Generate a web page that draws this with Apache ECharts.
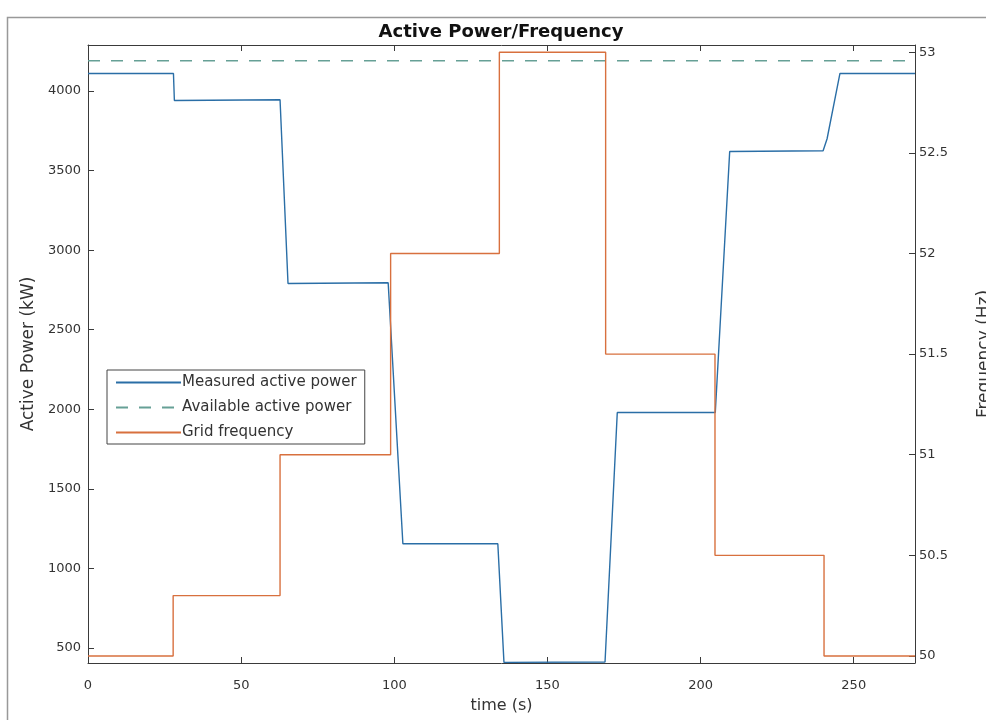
<!DOCTYPE html>
<html>
<head>
<meta charset="utf-8">
<script src="https://cdn.jsdelivr.net/npm/echarts@6/dist/echarts.min.js"></script>
<style>html,body{margin:0;padding:0;background:#fff;}#c{width:986px;height:720px;}</style>
</head>
<body>
<div id="c"></div>
<script>
// time (s), active power (kW)
var powerTime  = [0, 27.9, 28.2, 62.7, 65.3, 98.0, 102.8, 133.8, 135.8, 168.8, 172.8, 204.8, 209.5, 240.0, 241.3, 245.5, 270];
var powerValue = [4110, 4110, 3940, 3945, 2790, 2795, 1155, 1155, 410, 412, 1980, 1980, 3620, 3625, 3700, 4110, 4110];
// available active power (kW)
var availTime  = [0, 270];
var availValue = [4190, 4190];
// grid frequency (Hz)
var freqTime  = [0, 27.8, 27.8, 62.7, 62.7, 98.8, 98.8, 134.3, 134.3, 169.0, 169.0, 204.7, 204.7, 240.3, 240.3, 270];
var freqValue = [50, 50, 50.3, 50.3, 51, 51, 52, 52, 53, 53, 51.5, 51.5, 50.5, 50.5, 50, 50];
// tick labels
var xTicks = [0, 50, 100, 150, 200, 250];
var leftTicks = [500, 1000, 1500, 2000, 2500, 3000, 3500, 4000];
var rightTicks = [50, 50.5, 51, 51.5, 52, 52.5, 53];

function pairs(t, v) { return t.map(function (x, i) { return [x, v[i]]; }); }

var axisCol = '#3a3a3a';
var txtCol = '#333';
var font = 'DejaVu Sans, sans-serif';
function plain(v) { return String(v); }

var chart = echarts.init(document.getElementById('c'), null, { renderer: 'canvas' });
chart.setOption({
  backgroundColor: '#fff',
  animation: false,
  title: {
    text: 'Active Power/Frequency',
    left: 501, top: 23, textAlign: 'center', padding: 0,
    textStyle: { fontSize: 18, fontWeight: 'bold', color: '#111', fontFamily: font }
  },
  graphic: [{
    type: 'rect', silent: true, z: -10,
    shape: { x: 7.5, y: 17.5, width: 990, height: 720 },
    style: { fill: 'none', stroke: '#999', lineWidth: 1.5 }
  }],
  legend: {
    orient: 'vertical', left: 107, top: 370,
    itemWidth: 65, itemHeight: 12, itemGap: 10,
    padding: [5, 8, 4, 8],
    backgroundColor: '#fff', borderColor: '#444', borderWidth: 1,
    itemStyle: { opacity: 0 },
    textStyle: { fontSize: 15, color: txtCol, fontFamily: font, padding: [0, 0, 0, -4] },
    data: ['Measured active power', 'Available active power', 'Grid frequency']
  },
  grid: { left: 88, right: 71, top: 45, bottom: 57, containLabel: false, outerBoundsMode: 'none' },
  xAxis: [{
    type: 'value', min: 0, max: 270, position: 'bottom',
    name: 'time (s)', nameLocation: 'middle', nameGap: 35,
    nameTextStyle: { fontSize: 16, color: txtCol, fontFamily: font },
    axisLine: { show: true, onZero: false, lineStyle: { color: axisCol, width: 1 } },
    axisTick: { show: true, inside: true, length: 6, customValues: xTicks, lineStyle: { color: axisCol } },
    axisLabel: { customValues: xTicks, formatter: plain, fontSize: 13, color: txtCol, fontFamily: font, margin: 16 },
    splitLine: { show: false }
  }, {
    type: 'value', min: 0, max: 270, position: 'top',
    axisLine: { show: true, onZero: false, lineStyle: { color: axisCol, width: 1 } },
    axisTick: { show: true, inside: true, length: 6, customValues: xTicks, lineStyle: { color: axisCol } },
    axisLabel: { show: false },
    splitLine: { show: false }
  }],
  yAxis: [{
    type: 'value', min: 406, max: 4289, position: 'left',
    name: 'Active Power (kW)', nameLocation: 'middle', nameGap: 51, nameRotate: 90,
    nameTextStyle: { fontSize: 17, color: txtCol, fontFamily: font },
    axisLine: { show: true, onZero: false, lineStyle: { color: axisCol, width: 1 } },
    axisTick: { show: true, inside: true, length: 6, customValues: leftTicks, lineStyle: { color: axisCol } },
    axisLabel: { customValues: leftTicks, formatter: plain, fontSize: 13, color: txtCol, fontFamily: font, margin: 7 },
    splitLine: { show: false }
  }, {
    type: 'value', min: 49.965, max: 53.036, position: 'right',
    name: 'Frequency (Hz)', nameLocation: 'middle', nameGap: 61, nameRotate: 90,
    nameTextStyle: { fontSize: 17, color: txtCol, fontFamily: font },
    axisLine: { show: true, onZero: false, lineStyle: { color: axisCol, width: 1 } },
    axisTick: { show: true, inside: true, length: 6, customValues: rightTicks, lineStyle: { color: axisCol } },
    axisLabel: { customValues: rightTicks, formatter: plain, fontSize: 13, color: txtCol, fontFamily: font, margin: 4 },
    splitLine: { show: false }
  }],
  series: [{
    name: 'Measured active power', type: 'line', xAxisIndex: 0, yAxisIndex: 0,
    data: pairs(powerTime, powerValue), showSymbol: false, symbol: 'none',
    lineStyle: { color: '#2a6ea6', width: 1.4 }, itemStyle: { color: '#2a6ea6' }
  }, {
    name: 'Available active power', type: 'line', xAxisIndex: 0, yAxisIndex: 0,
    data: pairs(availTime, availValue), showSymbol: false, symbol: 'none',
    lineStyle: { color: '#66a096', width: 1.5, type: [12, 11] }, itemStyle: { color: '#66a096' }
  }, {
    name: 'Grid frequency', type: 'line', xAxisIndex: 0, yAxisIndex: 1,
    data: pairs(freqTime, freqValue), showSymbol: false, symbol: 'none',
    lineStyle: { color: '#d8703e', width: 1.4 }, itemStyle: { color: '#d8703e' }
  }]
});
</script>
</body>
</html>
